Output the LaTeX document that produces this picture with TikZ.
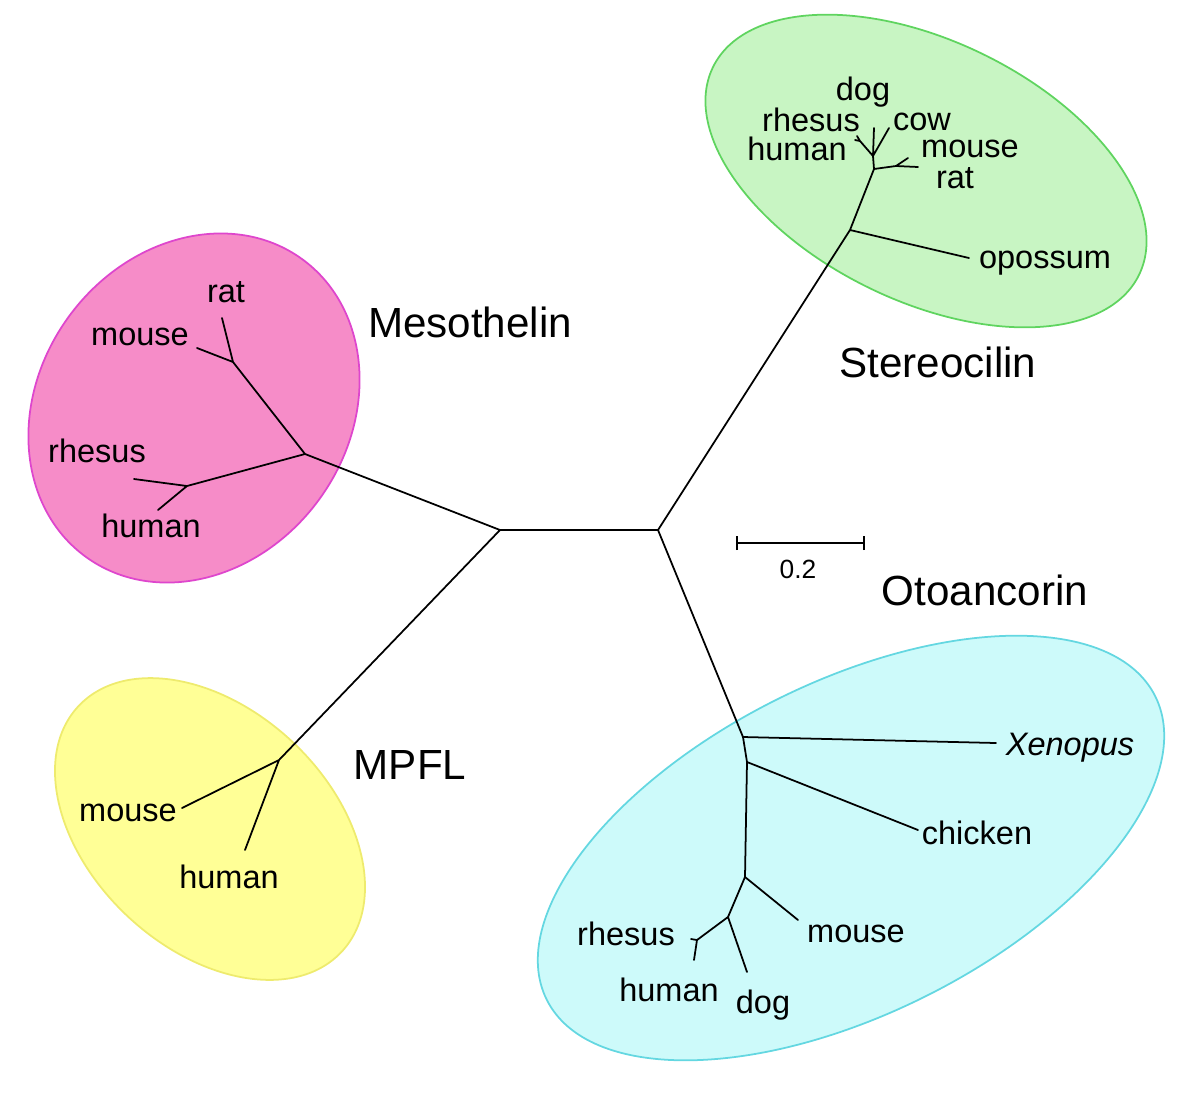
\documentclass[tikz,border=0pt]{standalone}
\usepackage{fontspec}
\setmainfont{Liberation Sans}
\usetikzlibrary{positioning}
\definecolor{mesofill}{RGB}{246,140,200}
\definecolor{mesoline}{RGB}{222,70,205}
\definecolor{sterfill}{RGB}{200,245,195}
\definecolor{sterline}{RGB}{95,212,95}
\definecolor{mpflfill}{RGB}{255,255,150}
\definecolor{mpflline}{RGB}{238,235,110}
\definecolor{otofill}{RGB}{205,250,250}
\definecolor{otoline}{RGB}{100,215,225}

\begin{document}
\begin{tikzpicture}[x=0.02cm, y=-0.02cm,
    leaf/.style={inner sep=1pt, font=\fontsize{18.5}{22}\selectfont},
    family/.style={inner sep=1pt, font=\fontsize{24}{28}\selectfont},
    branch/.style={line width=1pt, line join=round, line cap=round},
    group/.style={line width=1pt}]
\useasboundingbox (0,0) rectangle (1200,1093);

\draw[group, fill=mesofill, draw=mesoline, rotate around={54:(194,408)}] (194,408) ellipse [x radius=184, y radius=155];
\draw[group, fill=sterfill, draw=sterline, rotate around={-26:(926,171)}] (926,171) ellipse [x radius=237, y radius=130];
\draw[group, fill=mpflfill, draw=mpflline, rotate around={-43:(210,829)}] (210,829) ellipse [x radius=180, y radius=120];
\draw[group, fill=otofill, draw=otoline, rotate around={26.5:(851,848)}] (851,848) ellipse [x radius=340, y radius=166];

\coordinate (c1) at (500,530);
\coordinate (c2) at (658,530);

\coordinate (me) at (305,454);
\coordinate (mer) at (233,362);
\coordinate (merat) at (222,318);
\coordinate (memou) at (197,348);
\coordinate (meh) at (187,486);
\coordinate (merh) at (134,479);
\coordinate (mehu) at (158,510);

\coordinate (mp) at (279,760);
\coordinate (mpmou) at (182,808);
\coordinate (mphu) at (245,850);

\coordinate (st) at (850,230);
\coordinate (stop) at (969,258);
\coordinate (st1) at (874,169);
\coordinate (stmr) at (896,166);
\coordinate (stmou) at (908,158);
\coordinate (strat) at (918,167);
\coordinate (st2) at (873,156);
\coordinate (stdog) at (874,128);
\coordinate (stcow) at (889,128);
\coordinate (sthr) at (860,141);
\coordinate (strh) at (857,136);
\coordinate (sthu) at (855,140);

\coordinate (ot) at (743,737);
\coordinate (otxe) at (996,743);
\coordinate (ot1) at (747,762);
\coordinate (otch) at (918,830);
\coordinate (ot2) at (745,877);
\coordinate (otmou) at (798,920);
\coordinate (ot3) at (728,917);
\coordinate (otdog) at (747,972);
\coordinate (ot4) at (697,940);
\coordinate (otrh) at (691,939);
\coordinate (othu) at (694,960);

\coordinate (sb1) at (737,543);
\coordinate (sb2) at (864,543);

\draw[branch]
    (c1) -- (c2)
    (c1) -- (me) (me) -- (mer) (mer) -- (merat) (mer) -- (memou)
    (me) -- (meh) (meh) -- (merh) (meh) -- (mehu)
    (c1) -- (mp) (mp) -- (mpmou) (mp) -- (mphu)
    (c2) -- (st) (st) -- (stop) (st) -- (st1)
    (st1) -- (stmr) (stmr) -- (stmou) (stmr) -- (strat)
    (st1) -- (st2) (st2) -- (stdog) (st2) -- (stcow)
    (st2) -- (sthr) (sthr) -- (strh) (sthr) -- (sthu)
    (c2) -- (ot) (ot) -- (otxe) (ot) -- (ot1) (ot1) -- (otch)
    (ot1) -- (ot2) (ot2) -- (otmou) (ot2) -- (ot3) (ot3) -- (otdog)
    (ot3) -- (ot4) (ot4) -- (otrh) (ot4) -- (othu);

\draw[line width=1pt] (sb1) -- (sb2)
    ([yshift=-0.14cm]sb1) -- ([yshift=0.14cm]sb1)
    ([yshift=-0.14cm]sb2) -- ([yshift=0.14cm]sb2);
\node[inner sep=1pt, font=\fontsize{15}{18}\selectfont] (bar) at (798,569) {0.2};

\node[family] (meso) at (470,322) {Mesothelin};
\node[family] (ster) at (938,362) {Stereocilin};
\node[family] (oto) at (985,590) {Otoancorin};
\node[family] (mpfl) at (410,765) {MPFL};

\node[leaf] (merattx) at (226,292) {rat};
\node[leaf] (memoutx) at (140,337) {mouse};
\node[leaf] (merhtx) at (97,451) {rhesus};
\node[leaf] (mehutx) at (151,526) {human};

\node[leaf] (mpmoutx) at (128,813) {mouse};
\node[leaf] (mphutx) at (229,877) {human};

\node[leaf] (stdogtx) at (863,92) {dog};
\node[leaf] (strhtx) at (811,120) {rhesus};
\node[leaf] (stcowtx) at (922,122) {cow};
\node[leaf] (sthutx) at (797,149) {human};
\node[leaf] (stmoutx) at (970,149) {mouse};
\node[leaf] (strattx) at (955,178) {rat};
\node[leaf] (stoptx) at (1045,263) {opossum};

\node[leaf] (otxetx) at (1070,748) {\itshape Xenopus};
\node[leaf] (otchtx) at (977,833) {chicken};
\node[leaf] (otmoutx) at (856,934) {mouse};
\node[leaf] (otrhtx) at (626,934) {rhesus};
\node[leaf] (othutx) at (669,990) {human};
\node[leaf] (otdogtx) at (763,1005) {dog};
\end{tikzpicture}
\end{document}
